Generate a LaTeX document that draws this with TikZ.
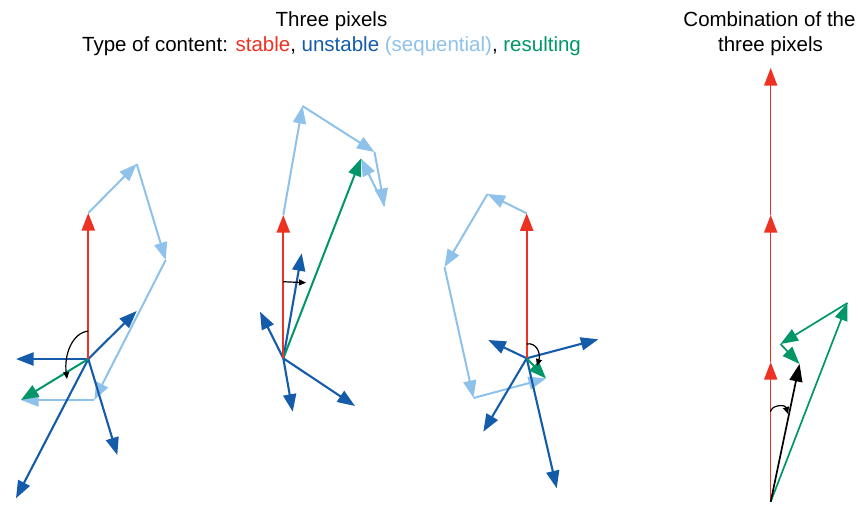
\documentclass[tikz,border=0pt]{standalone}
\usepackage{fontspec}
\setmainfont{Liberation Sans}
\usetikzlibrary{arrows.meta}
\definecolor{stabred}{RGB}{237,50,36}
\definecolor{unstblue}{RGB}{20,92,170}
\definecolor{seqblue}{RGB}{142,194,234}
\definecolor{resgreen}{RGB}{0,150,104}
\begin{document}
\begin{tikzpicture}[x=1pt,y=-1pt,
  vec/.style={line width=2pt,-{Triangle[length=17.5pt,width=13pt]}},
  stablevec/.style={vec,draw=stabred,line width=2.3pt},
  thinstable/.style={vec,draw=stabred,line width=1.5pt},
  unstablevec/.style={vec,draw=unstblue,line width=2.1pt},
  seqvec/.style={vec,draw=seqblue},
  resvec/.style={vec,draw=resgreen},
  thinres/.style={vec,draw=resgreen,line width=1.7pt},
  sumvec/.style={vec,draw=black,line width=1.7pt},
  anglearrow/.style={line width=1.2pt,-{Triangle[length=7pt,width=6pt]}},
  title/.style={font=\fontsize{20.5}{25}\selectfont,anchor=base,inner sep=0pt}]
\useasboundingbox (0,0) rectangle (862,504);

% headings
\node[title] (t1) at (331.5,26.7) {Three pixels};
\node[title] (t2) at (331.5,51.7) {Type of content: \textcolor{stabred}{stable}, \textcolor{unstblue}{unstable} \textcolor{seqblue}{(sequential)}, \textcolor{resgreen}{resulting}};
\node[title] (c1) at (769.5,26.7) {Combination of the};
\node[title] (c2) at (770.5,51.7) {three pixels};

% ---------- pixel 1 ----------
\coordinate (O1) at (88.3,359);
\coordinate (S1) at (88.3,213);
\coordinate (U1a) at (16,359);
\coordinate (U1b) at (136.7,311);
\coordinate (U1c) at (117.3,455);
\coordinate (U1d) at (16,498.3);
\coordinate (Q1a) at (136.7,164);
\coordinate (Q1b) at (165.7,260);
\coordinate (Q1c) at (94.3,400);
\coordinate (Q1d) at (21,400);
\draw[seqvec] (S1) -- (Q1a);
\draw[seqvec] (Q1a) -- (Q1b);
\draw[seqvec] (Q1b) -- (Q1c);
\draw[seqvec] (Q1c) -- (Q1d);
\foreach \u in {U1a,U1b,U1c,U1d} \draw[unstablevec] (O1) -- (\u);
\draw[resvec] (O1) -- (Q1d);
\draw[stablevec] (O1) -- (S1);
\coordinate (A1s) at (88.3,331);
\coordinate (A1e) at (67,379);
\draw[anglearrow] (A1s) .. controls (72,333) and (64,355) .. (A1e);

% ---------- pixel 2 ----------
\coordinate (O2) at (283.3,358.3);
\coordinate (S2) at (283.3,215);
\coordinate (U2a) at (301.7,253.3);
\coordinate (U2b) at (260,311.7);
\coordinate (U2c) at (292.7,411.7);
\coordinate (U2d) at (355,406);
\coordinate (Q2a) at (302.5,106);
\coordinate (Q2b) at (374.5,152);
\coordinate (Q2c) at (384.5,206);
\coordinate (Q2d) at (361,158.5);
\draw[seqvec] (S2) -- (Q2a);
\draw[seqvec] (Q2a) -- (Q2b);
\draw[seqvec] (Q2b) -- (Q2c);
\draw[seqvec] (Q2c) -- (Q2d);
\foreach \u in {U2a,U2b,U2c,U2d} \draw[unstablevec] (O2) -- (\u);
\draw[resvec] (O2) -- (Q2d);
\draw[stablevec] (O2) -- (S2);
\coordinate (A2s) at (283,281.7);
\coordinate (A2e) at (306,282.7);
\draw[anglearrow] (A2s) -- (A2e);

% ---------- pixel 3 ----------
\coordinate (O3) at (526.7,358.3);
\coordinate (S3) at (526.7,213.3);
\coordinate (U3a) at (488.3,340);
\coordinate (U3b) at (598.3,339.3);
\coordinate (U3c) at (483.3,431.7);
\coordinate (U3d) at (556.7,488.3);
\coordinate (Q3a) at (487.5,194);
\coordinate (Q3b) at (444.5,267);
\coordinate (Q3c) at (473.5,398);
\coordinate (Q3d) at (546,378.5);
\draw[seqvec] (S3) -- (Q3a);
\draw[seqvec] (Q3a) -- (Q3b);
\draw[seqvec] (Q3b) -- (Q3c);
\draw[seqvec] (Q3c) -- (Q3d);
\foreach \u in {U3a,U3b,U3c,U3d} \draw[unstablevec] (O3) -- (\u);
\draw[resvec] (O3) -- (Q3d);
\draw[stablevec] (O3) -- (S3);
\coordinate (A3s) at (526.7,344);
\coordinate (A3e) at (537,366);
\draw[anglearrow] (A3s) .. controls (536,342) and (541,353) .. (A3e);

% ---------- combination ----------
\coordinate (O4) at (770.7,501.7);
\coordinate (R4a) at (770.7,362);
\coordinate (R4b) at (770.7,215);
\coordinate (R4c) at (770.7,68);
\coordinate (G4a) at (847.5,303);
\coordinate (G4b) at (780.5,344);
\coordinate (G4c) at (799.5,364);
\draw[thinstable] (O4) -- (R4a);
\draw[thinstable] (R4a) -- (R4b);
\draw[thinstable,line width=1.2pt] (R4b) -- (R4c);
\draw[thinres] (O4) -- (G4a);
\draw[thinres] (G4a) -- (G4b);
\draw[thinres] (G4b) -- (G4c);
\draw[sumvec] (O4) -- (G4c);
\coordinate (A4s) at (770.5,412);
\coordinate (A4e) at (788,414);
\draw[anglearrow] (A4s) .. controls (771,405) and (785,404) .. (A4e);
\end{tikzpicture}
\end{document}
